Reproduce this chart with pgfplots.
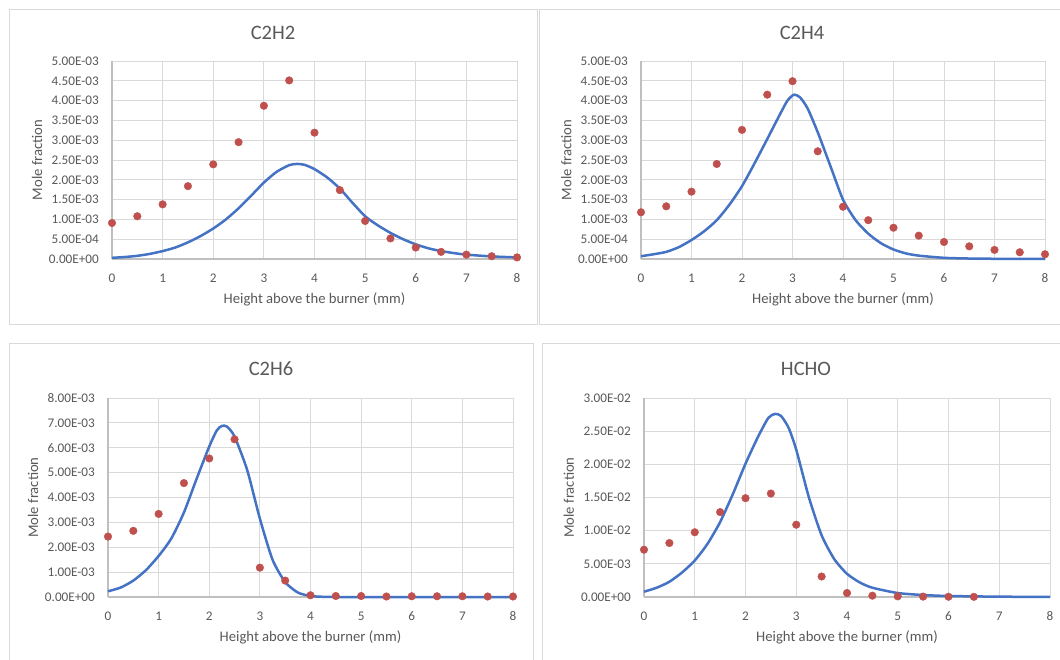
\documentclass[border=0pt]{standalone}
\usepackage{pgfplots}
\pgfplotsset{compat=1.18}
\usepackage{fontspec}
\setmainfont{Carlito}
\definecolor{gridc}{HTML}{D9D9D9}
\definecolor{axisc}{HTML}{BFBFBF}
\definecolor{txt}{HTML}{595959}
\definecolor{lineb}{HTML}{4472C4}
\definecolor{dotr}{HTML}{C0504D}
\definecolor{boxc}{HTML}{D9D9D9}

\pgfplotsset{
 panel/.style={
  scale only axis, height=198pt, anchor=south west, clip=false,
  xmin=0,xmax=8,ymin=0, scaled y ticks=false, scaled x ticks=false,
  xtick={0,1,2,3,4,5,6,7,8}, xticklabels={0,1,2,3,4,5,6,7,8},
  grid=major, major grid style={draw=gridc, line width=0.9pt},
  axis line style={draw=gridc, line width=0.9pt},
  major tick length=0pt,
  tick label style={font=\fontsize{13.2}{15}\selectfont, text=txt},
  xticklabel style={anchor=center, inner sep=0pt, yshift=-19pt},
  yticklabel style={anchor=east, inner sep=0pt, xshift=-13pt},
  xlabel={Height above the burner (mm)},
  ylabel={Mole fraction},
  label style={font=\fontsize{14.67}{17}\selectfont, text=txt},
  x label style={at={(axis description cs:0.5,-0.202)}, anchor=center},
  y label style={at={(axis description cs:-0.185,0.5)}, anchor=center},
 },
 curve/.style={lineb, line width=2.5pt, smooth, tension=0.4, no markers},
 pts/.style={only marks, mark=*, mark size=3.8pt, mark options={fill=dotr, draw=dotr}},
}

\begin{document}
\begin{tikzpicture}
\useasboundingbox[fill=white] (0,0) rectangle (1060pt,-659pt);
% chart frames
\draw[boxc, line width=1pt] (9pt,-9pt) rectangle (537pt,-324pt);
\draw[boxc, line width=1pt] (539pt,-9pt) rectangle (1062pt,-324pt);
\draw[boxc, line width=1pt] (9pt,-343pt) rectangle (533pt,-662pt);
\draw[boxc, line width=1pt] (542pt,-343pt) rectangle (1062pt,-662pt);
% titles
\node[font=\fontsize{20.5}{24}\selectfont, text=txt] at (273pt,-33pt) {C2H2};
\node[font=\fontsize{20.5}{24}\selectfont, text=txt] at (802pt,-33pt) {C2H4};
\node[font=\fontsize{20.5}{24}\selectfont, text=txt] at (271pt,-369pt) {C2H6};
\node[font=\fontsize{20.5}{24}\selectfont, text=txt] at (806pt,-369pt) {HCHO};

% ---------- C2H2
\begin{axis}[panel, width=405pt, at={(112pt,-259pt)}, ymax=5e-3,
  ytick={0,5e-4,1e-3,1.5e-3,2e-3,2.5e-3,3e-3,3.5e-3,4e-3,4.5e-3,5e-3},
  yticklabels={0.00E+00,5.00E-04,1.00E-03,1.50E-03,2.00E-03,2.50E-03,3.00E-03,3.50E-03,4.00E-03,4.50E-03,5.00E-03}]
\draw[axisc, line width=1.3pt] (axis cs:0,0) -- (axis cs:8,0);
\draw[axisc, line width=1.3pt] (axis cs:0,0) -- (axis cs:0,5e-3);
\addplot[curve] coordinates {(0,0.03e-3)(0.25,0.05e-3)(0.5,0.08e-3)(0.75,0.13e-3)(1,0.2e-3)(1.25,0.29e-3)(1.5,0.42e-3)(1.75,0.58e-3)(2,0.77e-3)(2.25,1.0e-3)(2.5,1.28e-3)(2.75,1.6e-3)(3,1.93e-3)(3.25,2.2e-3)(3.5,2.37e-3)(3.65,2.40e-3)(3.8,2.38e-3)(4,2.27e-3)(4.25,2.06e-3)(4.5,1.78e-3)(4.75,1.42e-3)(5,1.08e-3)(5.25,0.85e-3)(5.5,0.66e-3)(5.75,0.5e-3)(6,0.37e-3)(6.25,0.27e-3)(6.5,0.2e-3)(6.75,0.15e-3)(7,0.11e-3)(7.5,0.065e-3)(8,0.04e-3)};
\addplot[pts] coordinates {(0,9.1e-4)(0.5,1.08e-3)(1,1.38e-3)(1.5,1.84e-3)(2,2.39e-3)(2.5,2.95e-3)(3,3.87e-3)(3.5,4.51e-3)(4,3.19e-3)(4.5,1.74e-3)(5,9.6e-4)(5.5,5.2e-4)(6,2.9e-4)(6.5,1.8e-4)(7,1.1e-4)(7.5,7e-5)(8,4e-5)};
\end{axis}

% ---------- C2H4
\begin{axis}[panel, width=404pt, at={(641pt,-259pt)}, ymax=5e-3,
  ytick={0,5e-4,1e-3,1.5e-3,2e-3,2.5e-3,3e-3,3.5e-3,4e-3,4.5e-3,5e-3},
  yticklabels={0.00E+00,5.00E-04,1.00E-03,1.50E-03,2.00E-03,2.50E-03,3.00E-03,3.50E-03,4.00E-03,4.50E-03,5.00E-03}]
\draw[axisc, line width=1.3pt] (axis cs:0,0) -- (axis cs:8,0);
\draw[axisc, line width=1.3pt] (axis cs:0,0) -- (axis cs:0,5e-3);
\addplot[curve] coordinates {(0,0.07e-3)(0.25,0.12e-3)(0.5,0.18e-3)(0.75,0.3e-3)(1,0.48e-3)(1.25,0.7e-3)(1.5,0.98e-3)(1.75,1.37e-3)(2,1.84e-3)(2.25,2.42e-3)(2.5,3.03e-3)(2.75,3.65e-3)(2.9,4.0e-3)(3.03,4.15e-3)(3.15,4.08e-3)(3.3,3.8e-3)(3.5,3.2e-3)(3.75,2.35e-3)(4,1.5e-3)(4.25,0.98e-3)(4.5,0.64e-3)(4.75,0.4e-3)(5,0.24e-3)(5.25,0.14e-3)(5.5,0.085e-3)(6,0.03e-3)(6.5,0.012e-3)(7,0.006e-3)(8,0.003e-3)};
\addplot[pts] coordinates {(0,1.18e-3)(0.5,1.33e-3)(1,1.70e-3)(1.5,2.40e-3)(2,3.26e-3)(2.5,4.15e-3)(3,4.49e-3)(3.5,2.72e-3)(4,1.32e-3)(4.5,0.98e-3)(5,0.79e-3)(5.5,0.59e-3)(6,0.43e-3)(6.5,0.32e-3)(7,0.23e-3)(7.5,0.17e-3)(8,0.12e-3)};
\end{axis}

% ---------- C2H6
\begin{axis}[panel, width=405pt, height=199pt, at={(108pt,-597pt)}, ymax=8e-3,
  ytick={0,1e-3,2e-3,3e-3,4e-3,5e-3,6e-3,7e-3,8e-3},
  yticklabels={0.00E+00,1.00E-03,2.00E-03,3.00E-03,4.00E-03,5.00E-03,6.00E-03,7.00E-03,8.00E-03}]
\draw[axisc, line width=1.3pt] (axis cs:0,0) -- (axis cs:8,0);
\draw[axisc, line width=1.3pt] (axis cs:0,0) -- (axis cs:0,8e-3);
\addplot[curve] coordinates {(0,0.23e-3)(0.25,0.38e-3)(0.5,0.66e-3)(0.75,1.08e-3)(1,1.65e-3)(1.25,2.35e-3)(1.5,3.4e-3)(1.75,4.75e-3)(2,6.05e-3)(2.15,6.7e-3)(2.25,6.88e-3)(2.35,6.85e-3)(2.5,6.45e-3)(2.75,5.1e-3)(3,3.15e-3)(3.25,1.5e-3)(3.5,0.6e-3)(3.75,0.18e-3)(4,0.04e-3)(4.25,0.008e-3)(4.5,0)(5,0)(6,0)(7,0)(8,0)};
\addplot[pts] coordinates {(0,2.43e-3)(0.5,2.66e-3)(1,3.34e-3)(1.5,4.58e-3)(2,5.57e-3)(2.5,6.34e-3)(3,1.18e-3)(3.5,0.66e-3)(4,0.07e-3)(4.5,0.04e-3)(5,0.04e-3)(5.5,0.02e-3)(6,0.03e-3)(6.5,0.03e-3)(7,0.03e-3)(7.5,0.02e-3)(8,0.02e-3)};
\end{axis}

% ---------- HCHO
\begin{axis}[panel, width=406pt, height=199pt, at={(644pt,-597pt)}, ymax=3e-2,
  ytick={0,5e-3,1e-2,1.5e-2,2e-2,2.5e-2,3e-2},
  yticklabels={0.00E+00,5.00E-03,1.00E-02,1.50E-02,2.00E-02,2.50E-02,3.00E-02}]
\draw[axisc, line width=1.3pt] (axis cs:0,0) -- (axis cs:8,0);
\draw[axisc, line width=1.3pt] (axis cs:0,0) -- (axis cs:0,3e-2);
\addplot[curve] coordinates {(0,0.8e-3)(0.25,1.4e-3)(0.5,2.3e-3)(0.75,3.7e-3)(1,5.5e-3)(1.25,8.0e-3)(1.5,11.3e-3)(1.75,15.5e-3)(2,20.1e-3)(2.25,24.2e-3)(2.45,27.0e-3)(2.58,27.6e-3)(2.7,27.3e-3)(2.85,25.5e-3)(3,22.2e-3)(3.25,15.0e-3)(3.5,9.3e-3)(3.75,5.7e-3)(4,3.5e-3)(4.25,2.2e-3)(4.5,1.4e-3)(5,0.6e-3)(5.5,0.3e-3)(6,0.15e-3)(7,0.05e-3)(8,0.02e-3)};
\addplot[pts] coordinates {(0,7.13e-3)(0.5,8.14e-3)(1,9.76e-3)(1.5,12.8e-3)(2,14.9e-3)(2.5,15.6e-3)(3,10.9e-3)(3.5,3.09e-3)(4,0.6e-3)(4.5,0.2e-3)(5,0.1e-3)(5.5,0.06e-3)(6,0.04e-3)(6.5,0.03e-3)};
\end{axis}
\end{tikzpicture}
\end{document}
